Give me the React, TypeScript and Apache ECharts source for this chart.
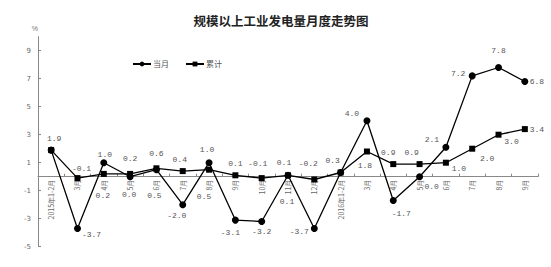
import React, { useEffect, useRef } from "react";
import * as echarts from "echarts";

const categories = [
  "2015年1-2月", "3月", "4月", "5月", "6月", "7月", "8月", "9月", "10月", "11月", "12月",
  "2016年1-2月", "3月", "4月", "5月", "6月", "7月", "8月", "9月",
];
const monthly = [1.9, -3.7, 1.0, 0.0, 0.5, -2.0, 1.0, -3.1, -3.2, 0.1, -3.7, 0.3, 4.0, -1.7, 0.0, 2.1, 7.2, 7.8, 6.8];
const cumulative = [1.9, -0.1, 0.2, 0.2, 0.6, 0.4, 0.5, 0.1, -0.1, 0.1, -0.2, 0.3, 1.8, 0.9, 0.9, 1.0, 2.0, 3.0, 3.4];
const yTicks = [-5, -3, -1, 1, 3, 5, 7, 9];

// label offsets (style only) relative to point centres; null = hidden
const monthlyLabelOffsets: (number[] | null)[] = [
  [3, -12], [14, 6], [1, -8], [-1, 18], [-2, 26], [-6, 11], [-2, -13], [-5, 12], [0, 10], [-1, 26],
  [-15, 3], [-8, -12], [-15, -7], [8, 13], [12, 10], [-14, -8], [-14, -2], [0, -17], [12, 0],
];
const cumulativeLabelOffsets: (number[] | null)[] = [
  null, [4, -10], [-1, 22], [0, -15], [0, -15], [-3, -12], [-5, 27], [0, -12], [-4, -15], [-4, -13],
  [-6, -16], null, [-2, 14], [-5, -12], [-8, -12], [13, 6], [15, 10], [13, 7], [12, 0],
];

const labelStyle = {
  fontSize: 8,
  color: "#555",
  fontFamily: "Liberation Mono, DejaVu Sans Mono, monospace",
};

function buildData(values: number[], offsets: (number[] | null)[]) {
  return values.map((v, i) => {
    const off = offsets[i];
    return {
      value: v,
      label: off
        ? { show: true, position: "inside", offset: off, formatter: v.toFixed(1), ...labelStyle }
        : { show: false },
    };
  });
}

export default function App() {
  const ref = useRef<HTMLDivElement>(null);
  useEffect(() => {
    if (!ref.current) return;
    document.body.style.margin = "0";
    const chart = echarts.init(ref.current, undefined, { renderer: "svg" });
    chart.setOption({
      animation: false,
      backgroundColor: "#fff",
      title: {
        text: "规模以上工业发电量月度走势图",
        left: 276,
        textAlign: "center",
        top: 9,
        textStyle: { fontSize: 12.5, fontWeight: "bold", color: "#222", fontFamily: "Noto Sans CJK SC" },
      },
      legend: {
        left: 127,
        top: 55,
        itemWidth: 18,
        itemHeight: 6,
        itemGap: 16,
        textStyle: { fontSize: 8, color: "#555", fontFamily: "Noto Sans CJK SC", padding: [0, 0, 0, -3] },
        data: ["当月", "累计"],
      },
      grid: { left: 38, right: 13, top: 36.7, bottom: 20.3, containLabel: false, outerBoundsMode: "none" },
      xAxis: {
        type: "category",
        data: categories,
        boundaryGap: true,
        offset: -70,
        axisLine: { onZero: false, lineStyle: { color: "#888", width: 1 } },
        axisTick: { show: true, inside: true, length: 3, interval: 0, lineStyle: { color: "#888" } },
        axisLabel: {
          interval: 0,
          rotate: 90,
          fontSize: 7,
          color: "#666",
          margin: 3,
          fontFamily: "Noto Sans CJK SC",
        },
      },
      yAxis: {
        type: "value",
        min: -5,
        max: 10,
        name: "%",
        nameLocation: "end",
        nameGap: 5,
        nameTextStyle: { fontSize: 7, color: "#777", align: "right" },
        axisLine: { show: true, lineStyle: { color: "#888", width: 1 } },
        axisTick: { show: true, inside: true, length: 3, customValues: yTicks, lineStyle: { color: "#888" } },
        axisLabel: { customValues: yTicks, fontSize: 7, color: "#666", margin: 7, fontFamily: "DejaVu Sans" },
        splitLine: { show: false },
      },
      series: [
        {
          name: "当月",
          type: "line",
          data: buildData(monthly, monthlyLabelOffsets),
          symbol: "circle",
          symbolSize: 7,
          itemStyle: { color: "#000" },
          lineStyle: { color: "#000", width: 1.3 },
          z: 3,
        },
        {
          name: "累计",
          type: "line",
          data: buildData(cumulative, cumulativeLabelOffsets),
          symbol: "rect",
          symbolSize: 6,
          itemStyle: { color: "#000" },
          lineStyle: { color: "#000", width: 1.3 },
          z: 2,
        },
      ],
    });
    return () => chart.dispose();
  }, []);
  return <div ref={ref} style={{ width: 551, height: 267 }} />;
}
